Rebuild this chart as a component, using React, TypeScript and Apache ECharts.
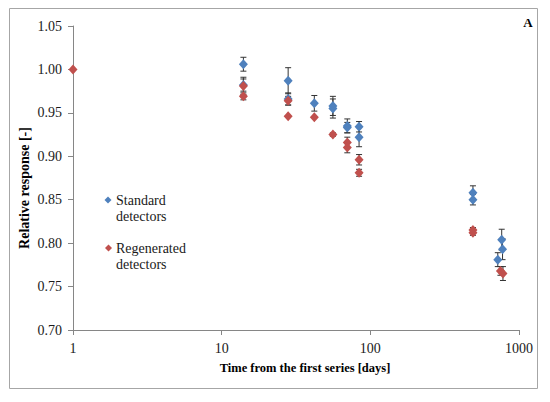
import React, { useEffect, useRef } from "react";
import * as echarts from "echarts";

// Standard detectors
const stdDays = [14, 14, 28, 28, 42, 56, 56, 70, 70, 84, 84, 490, 490, 720, 765, 775];
const stdValues = [1.006, 0.982, 0.987, 0.966, 0.961, 0.958, 0.955, 0.935, 0.933, 0.934, 0.922, 0.858, 0.85, 0.781, 0.804, 0.793];
const stdErrors = [0.008, 0.007, 0.015, 0.007, 0.009, 0.011, 0.011, 0.008, 0.006, 0.006, 0.011, 0.008, 0.006, 0.008, 0.012, 0.012];

// Regenerated detectors
const regDays = [1, 14, 14, 28, 28, 42, 56, 70, 70, 84, 84, 490, 490, 750, 780];
const regValues = [1.0, 0.981, 0.969, 0.964, 0.946, 0.945, 0.925, 0.916, 0.91, 0.896, 0.881, 0.815, 0.812, 0.768, 0.765];
const regErrors = [0, 0.01, 0.004, 0.005, 0, 0, 0.002, 0.006, 0.006, 0.006, 0.004, 0.003, 0.003, 0.005, 0.008];

const yTicks = [0.7, 0.75, 0.8, 0.85, 0.9, 0.95, 1.0, 1.05];

const BLUE = "#4F81BD";
const RED = "#C0504D";
const FONT = "'Liberation Serif', 'Times New Roman', 'DejaVu Serif', serif";

function errorSeries(days: number[], values: number[], errors: number[]) {
  return {
    type: "custom",
    z: 1,
    clip: false,
    silent: true,
    data: days.map((d, i) => [d, values[i] - errors[i], values[i] + errors[i], errors[i]]),
    encode: { x: 0, y: [1, 2] },
    renderItem: (params: any, api: any) => {
      if (api.value(3) <= 0) return null;
      const x = api.value(0);
      const lo = api.coord([x, api.value(1)]);
      const hi = api.coord([x, api.value(2)]);
      const cap = 3;
      const style = { stroke: "#333333", lineWidth: 1 };
      return {
        type: "group",
        children: [
          { type: "line", shape: { x1: lo[0], y1: lo[1], x2: hi[0], y2: hi[1] }, style },
          { type: "line", shape: { x1: lo[0] - cap, y1: lo[1], x2: lo[0] + cap, y2: lo[1] }, style },
          { type: "line", shape: { x1: hi[0] - cap, y1: hi[1], x2: hi[0] + cap, y2: hi[1] }, style },
        ],
      };
    },
  };
}

function diamond(cx: number, cy: number, r: number) {
  return [
    [cx, cy - r],
    [cx + r, cy],
    [cx, cy + r],
    [cx - r, cy],
  ];
}

export default function App() {
  const ref = useRef<HTMLDivElement>(null);
  useEffect(() => {
    if (!ref.current) return;
    const chart = echarts.init(ref.current, null, { renderer: "svg" });
    const axisColor = "#868686";
    chart.setOption({
      animation: false,
      backgroundColor: "#ffffff",
      textStyle: { fontFamily: FONT },
      grid: { left: 73, right: 31, top: 26, bottom: 72 },
      xAxis: {
        type: "log",
        logBase: 10,
        min: 1,
        max: 1000,
        axisLine: { show: true, lineStyle: { color: axisColor, width: 1 } },
        axisTick: { show: true, inside: false, length: 5, lineStyle: { color: axisColor } },
        minorTick: { show: false },
        splitLine: { show: false },
        axisLabel: {
          color: "#1a1a1a",
          fontFamily: FONT,
          fontSize: 14,
          margin: 11,
          formatter: (v: number) => String(Math.round(v)),
        },
      },
      yAxis: {
        type: "value",
        min: yTicks[0],
        max: yTicks[yTicks.length - 1],
        interval: 0.05,
        axisLine: { show: true, lineStyle: { color: axisColor, width: 1 } },
        axisTick: { show: true, inside: false, length: 5, lineStyle: { color: axisColor } },
        splitLine: { show: false },
        axisLabel: {
          color: "#1a1a1a",
          fontFamily: FONT,
          fontSize: 14,
          margin: 11,
          formatter: (v: number) => v.toFixed(2),
        },
      },
      series: [
        errorSeries(stdDays, stdValues, stdErrors),
        errorSeries(regDays, regValues, regErrors),
        {
          name: "Standard detectors",
          type: "scatter",
          z: 3,
          clip: false,
          symbol: "diamond",
          symbolSize: [9, 10],
          itemStyle: { color: BLUE, opacity: 1 },
          data: stdDays.map((d, i) => [d, stdValues[i]]),
        },
        {
          name: "Regenerated detectors",
          type: "scatter",
          z: 4,
          clip: false,
          symbol: "diamond",
          symbolSize: [9, 10],
          itemStyle: { color: RED, opacity: 1 },
          data: regDays.map((d, i) => [d, regValues[i]]),
        },
      ],
      graphic: [
        {
          type: "rect",
          shape: { x: 9.5, y: 8.5, width: 528, height: 380 },
          style: { fill: "none", stroke: "#a6a6a6", lineWidth: 1 },
          z: -10,
        },
        {
          type: "text",
          x: 24,
          y: 188,
          rotation: Math.PI / 2,
          style: {
            text: "Relative response [-]",
            fontFamily: FONT,
            fontWeight: "bold",
            fontSize: 14,
            fill: "#000000",
            align: "center",
            verticalAlign: "middle",
          },
        },
        {
          type: "text",
          x: 305,
          y: 368,
          style: {
            text: "Time from the first series [days]",
            fontFamily: FONT,
            fontWeight: "bold",
            fontSize: 12.5,
            fill: "#000000",
            align: "center",
            verticalAlign: "middle",
          },
        },
        {
          type: "text",
          x: 528,
          y: 22,
          style: {
            text: "A",
            fontFamily: FONT,
            fontWeight: "bold",
            fontSize: 13,
            fill: "#000000",
            align: "center",
            verticalAlign: "middle",
          },
        },
        {
          type: "polygon",
          shape: { points: diamond(108, 200, 3.5) },
          style: { fill: BLUE },
        },
        {
          type: "text",
          x: 116,
          y: 192,
          style: {
            text: "Standard\ndetectors",
            fontFamily: FONT,
            fontSize: 14,
            lineHeight: 16,
            fill: "#1a1a1a",
            align: "left",
            verticalAlign: "top",
          },
        },
        {
          type: "polygon",
          shape: { points: diamond(108.5, 248, 3.5) },
          style: { fill: RED },
        },
        {
          type: "text",
          x: 116,
          y: 240,
          style: {
            text: "Regenerated\ndetectors",
            fontFamily: FONT,
            fontSize: 14,
            lineHeight: 16,
            fill: "#1a1a1a",
            align: "left",
            verticalAlign: "top",
          },
        },
      ],
    });
    return () => chart.dispose();
  }, []);
  return (
    <div
      ref={ref}
      style={{ position: "fixed", left: 0, top: 0, width: 550, height: 402, background: "#fff" }}
    />
  );
}
